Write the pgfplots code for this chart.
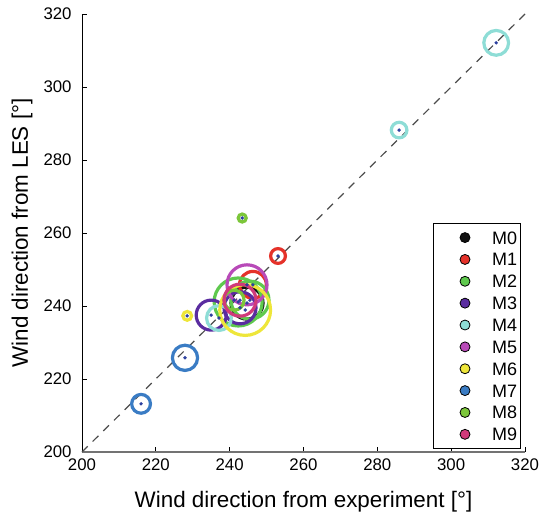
\documentclass[border=0pt]{standalone}
\usepackage{fontspec}
\setmainfont{Liberation Sans}
\usepackage{pgfplots}
\usepackage{pgfplotstable}
\pgfplotsset{compat=1.18}

\definecolor{m0}{HTML}{111111}
\definecolor{m1}{HTML}{E5322A}
\definecolor{m2}{HTML}{5FC94E}
\definecolor{m3}{HTML}{5A2CA0}
\definecolor{m4}{HTML}{8EDDD6}
\definecolor{m5}{HTML}{B84AB8}
\definecolor{m6}{HTML}{EEE63A}
\definecolor{m7}{HTML}{3A7CC4}
\definecolor{m8}{HTML}{7CC63A}
\definecolor{m9}{HTML}{D03A7A}
\definecolor{dotblue}{HTML}{2B3F9E}

% x y r(pt)
\pgfplotstableread{
x y r
244.7 240.8 8.0
}\tMzero
\pgfplotstableread{
x y r
253.1 253.7 3.7
246.3 245.8 6.7
}\tMone
\pgfplotstableread{
x y r
242.3 241.1 12.0
245.5 241.6 9.5
}\tMtwo
\pgfplotstableread{
x y r
235.0 237.5 7.5
242.8 239.5 8.0
}\tMthree
\pgfplotstableread{
x y r
237.1 236.7 6.2
285.9 288.2 3.9
312.2 312.1 6.2
}\tMfour
\pgfplotstableread{
x y r
244.7 245.8 10.0
}\tMfive
\pgfplotstableread{
x y r
228.5 237.3 2.2
244.2 238.9 12.7
}\tMsix
\pgfplotstableread{
x y r
216.0 213.2 4.7
227.9 225.8 6.3
}\tMseven
\pgfplotstableread{
x y r
243.4 264.1 2.0
241.2 241.6 5.0
}\tMeight
\pgfplotstableread{
x y r
242.8 241.6 8.0
}\tMnine

\pgfplotsset{
  bub/.style={
    scatter, only marks, mark=o,
    point meta=explicit,
    scatter/use mapped color={draw=#1, fill=none},
    mark options={line width=1.6pt},
    visualization depends on={\thisrow{r} \as \rr},
    scatter/@pre marker code/.append style={/tikz/mark size=\rr},
    legend image code/.code={
      \path (-13.9pt,0pt) (13.3pt,0pt);
      \filldraw[fill=#1, draw=black, line width=0.4pt] (0pt,0pt) circle (2.5pt);
    },
  },
  dots/.style={only marks, mark=*, mark size=0.65pt, color=dotblue, forget plot},
}

\begin{document}
\begin{tikzpicture}
\useasboundingbox (-41pt,-33.5pt) rectangle (230pt,226pt);
\begin{axis}[
  at={(0,0)}, anchor=south west,
  scale only axis, width=221.5pt, height=219pt,
  xmin=200, xmax=320, ymin=200, ymax=320,
  xtick={200,220,...,320}, ytick={200,220,...,320},
  axis x line*=bottom, axis y line*=left,
  x axis line style={draw=black!55, line width=0.8pt},
  y axis line style={draw=black, line width=0.4pt},
  tick align=inside, major tick length=2.5pt,
  tick style={black, line width=0.4pt},
  /pgf/number format/assume math mode=true,
  ticklabel style={font=\fontsize{8.4}{10}\selectfont},
  yticklabel style={xshift=-1.7pt},
  label style={font=\fontsize{11.2}{13}\selectfont},
  xlabel={Wind direction from experiment [°]},
  ylabel={Wind direction from LES [°]},
  xlabel style={at={(axis description cs:0.5,-0.114)}, anchor=center},
  ylabel style={at={(axis description cs:-0.1354,0.5)}, anchor=center},
  legend style={
    at={(0.991,0.006)}, anchor=south east,
    draw=black, line width=0.6pt, fill=white,
    inner xsep=1.6pt, inner ysep=4pt,
    font=\fontsize{9}{10}\selectfont,
    nodes={inner sep=0pt, text height=6.45pt, text depth=0pt},
    row sep=4.48pt,
  },
  clip=false,
]
\addplot[bub=m0] table[meta=r] {\tMzero};
\addplot[bub=m1] table[meta=r] {\tMone};
\addplot[bub=m2] table[meta=r] {\tMtwo};
\addplot[bub=m3] table[meta=r] {\tMthree};
\addplot[bub=m4] table[meta=r] {\tMfour};
\addplot[bub=m5] table[meta=r] {\tMfive};
\addplot[bub=m6] table[meta=r] {\tMsix};
\addplot[bub=m7] table[meta=r] {\tMseven};
\addplot[bub=m8] table[meta=r] {\tMeight};
\addplot[bub=m9] table[meta=r] {\tMnine};
\legend{M0,M1,M2,M3,M4,M5,M6,M7,M8,M9}

\addplot[forget plot, black!70, line width=0.6pt, dash pattern=on 4pt off 3.5pt] coordinates {(200,200) (320,320)};

\addplot[dots] table {\tMzero};
\addplot[dots] table {\tMone};
\addplot[dots] table {\tMtwo};
\addplot[dots] table {\tMthree};
\addplot[dots] table {\tMfour};
\addplot[dots] table {\tMfive};
\addplot[dots] table {\tMsix};
\addplot[dots] table {\tMseven};
\addplot[dots] table {\tMeight};
\addplot[dots] table {\tMnine};
\end{axis}
\end{tikzpicture}
\end{document}
